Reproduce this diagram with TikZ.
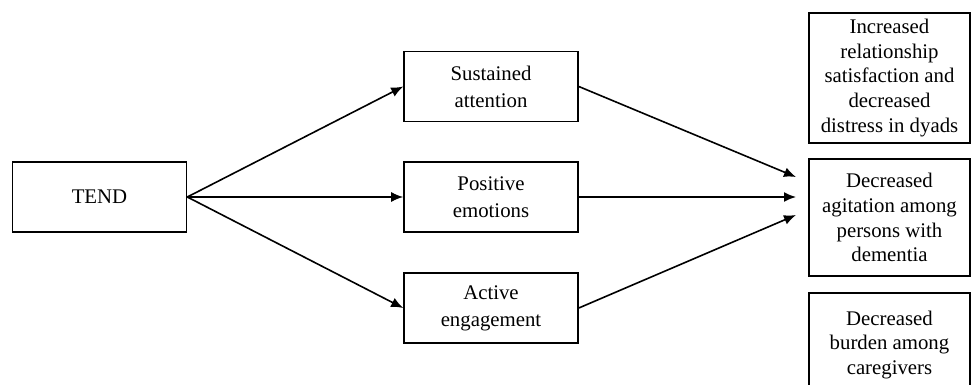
\documentclass[tikz,border=0pt]{standalone}
\usepackage{fontspec}
\setmainfont{Liberation Serif}
\usetikzlibrary{positioning}
\usetikzlibrary{arrows.meta}

\tikzset{
  midbox/.style={draw,line width=0.8pt,minimum width=87pt,minimum height=35pt,align=center,inner sep=0pt,
    font=\fontsize{10.4}{13.4}\selectfont},
  outbox/.style={draw,line width=0.8pt,minimum width=80.5pt,align=center,inner sep=0pt,
    font=\fontsize{10.4}{12.4}\selectfont},
  link/.style={line width=0.8pt,-{Latex[length=6pt,width=5pt]}}
}

\begin{document}
\begin{tikzpicture}[x=0.5pt,y=-0.5pt]
\useasboundingbox (0,0) rectangle (971,385);
\clip (0,0) rectangle (971,385);

% left
\node[midbox] (tend) at (99.5,197) {TEND};

% middle
\node[midbox] (att) at (491,86.5) {Sustained\\attention};
\node[midbox] (emo) at (491,197) {Positive\\emotions};
\node[midbox] (eng) at (491,308) {Active\\engagement};

% right
\node[outbox,minimum height=65pt] (sat) at (889.5,78) {Increased\\relationship\\satisfaction and\\decreased\\distress in dyads};
\node[outbox,minimum height=58.5pt] (agi) at (889.5,217.5) {Decreased\\agitation among\\persons with\\dementia};
\node[outbox,minimum height=52pt] (bur) at (889.5,345) {Decreased\\burden among\\caregivers};

\coordinate (in1) at (796,177);
\coordinate (in2) at (796,197);
\coordinate (in3) at (796,215);

\draw[link] (tend.east) -- (att.west);
\draw[link] (tend.east) -- (emo.west);
\draw[link] (tend.east) -- (eng.west);

\draw[link] (att.east) -- (in1);
\draw[link] (emo.east) -- (in2);
\draw[link] (eng.east) -- (in3);

\end{tikzpicture}
\end{document}
